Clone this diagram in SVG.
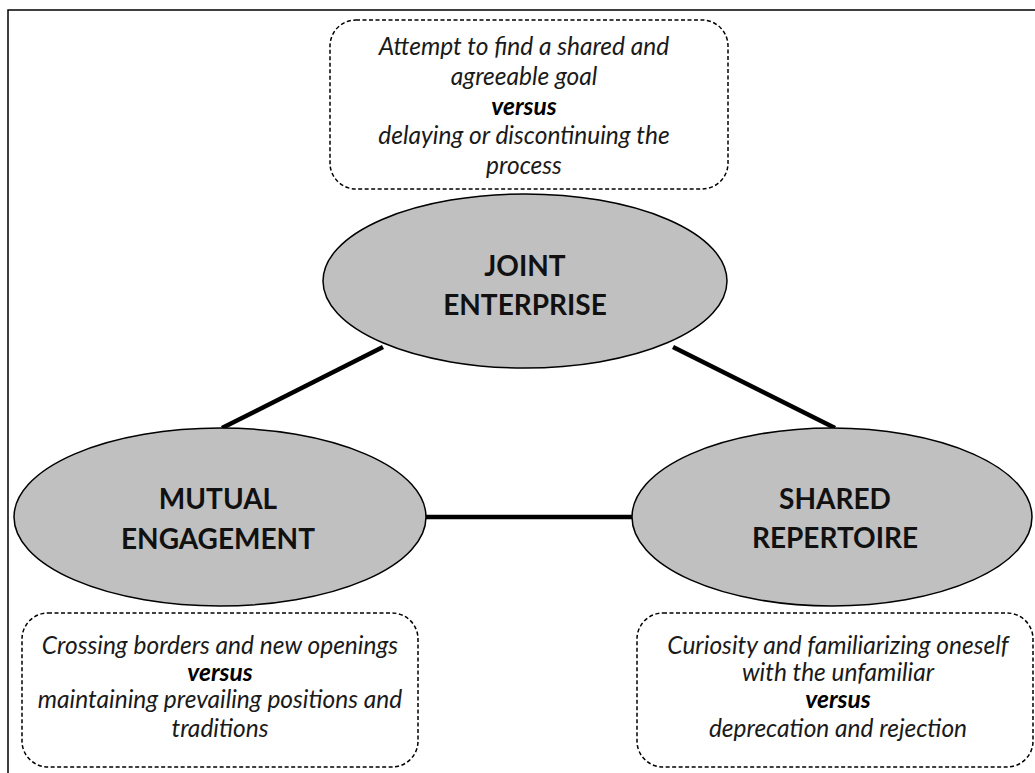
<svg xmlns="http://www.w3.org/2000/svg" width="1035" height="773" viewBox="0 0 1035 773">
<style>
.frame{fill:none;stroke:#000;stroke-width:1.5}
.box{fill:#fff;stroke:#000;stroke-width:1.5;stroke-dasharray:4 2.5}
.ell{fill:#c0c0c0;stroke:#000;stroke-width:1.5}
.conn{stroke:#000;stroke-width:4.5;fill:none}
.t{font-family:Lato,"Liberation Sans",sans-serif;font-style:italic;font-size:24.5px;fill:#1a1a1a;text-anchor:middle}
.v{font-family:Lato,"Liberation Sans",sans-serif;font-weight:bold;font-style:italic;font-size:24.5px;fill:#000;text-anchor:middle}
.h{font-family:Lato,"Liberation Sans",sans-serif;font-weight:bold;font-size:28px;fill:#111;text-anchor:middle}
</style>
<rect width="1035" height="773" fill="#fff"/>
<path class="frame" d="M8,773 V10 H1035"/>
<g id="connectors">
<line class="conn" x1="383" y1="347" x2="222" y2="428"/>
<line class="conn" x1="673" y1="347" x2="835" y2="428"/>
<line class="conn" x1="426" y1="517" x2="632" y2="517"/>
</g>
<g id="joint-enterprise">
<ellipse class="ell" cx="525" cy="281" rx="202" ry="87"/>
<text class="h" x="525" y="276">JOINT</text>
<text class="h" x="525" y="315">ENTERPRISE</text>
</g>
<g id="mutual-engagement">
<ellipse class="ell" cx="220" cy="517" rx="206" ry="89"/>
<text class="h" x="218" y="509">MUTUAL</text>
<text class="h" x="218" y="549">ENGAGEMENT</text>
</g>
<g id="shared-repertoire">
<ellipse class="ell" cx="832" cy="517" rx="200" ry="89"/>
<text class="h" x="835" y="509">SHARED</text>
<text class="h" x="835" y="548">REPERTOIRE</text>
</g>
<g id="note-joint">
<rect class="box" x="330" y="20" width="398" height="169" rx="26"/>
<text class="t" x="524" y="55">Attempt to find a shared and</text>
<text class="t" x="524" y="85">agreeable goal</text>
<text class="v" x="524" y="115">versus</text>
<text class="t" x="524" y="144">delaying or discontinuing the</text>
<text class="t" x="524" y="174">process</text>
</g>
<g id="note-mutual">
<rect class="box" x="22" y="613" width="396" height="154" rx="26"/>
<text class="t" x="220" y="654">Crossing borders and new openings</text>
<text class="v" x="220" y="681">versus</text>
<text class="t" x="220" y="708">maintaining prevailing positions and</text>
<text class="t" x="220" y="737">traditions</text>
</g>
<g id="note-shared">
<rect class="box" x="637" y="613" width="396" height="154" rx="26"/>
<text class="t" x="838" y="654">Curiosity and familiarizing oneself</text>
<text class="t" x="838" y="681">with the unfamiliar</text>
<text class="v" x="838" y="708">versus</text>
<text class="t" x="838" y="737">deprecation and rejection</text>
</g>
</svg>
